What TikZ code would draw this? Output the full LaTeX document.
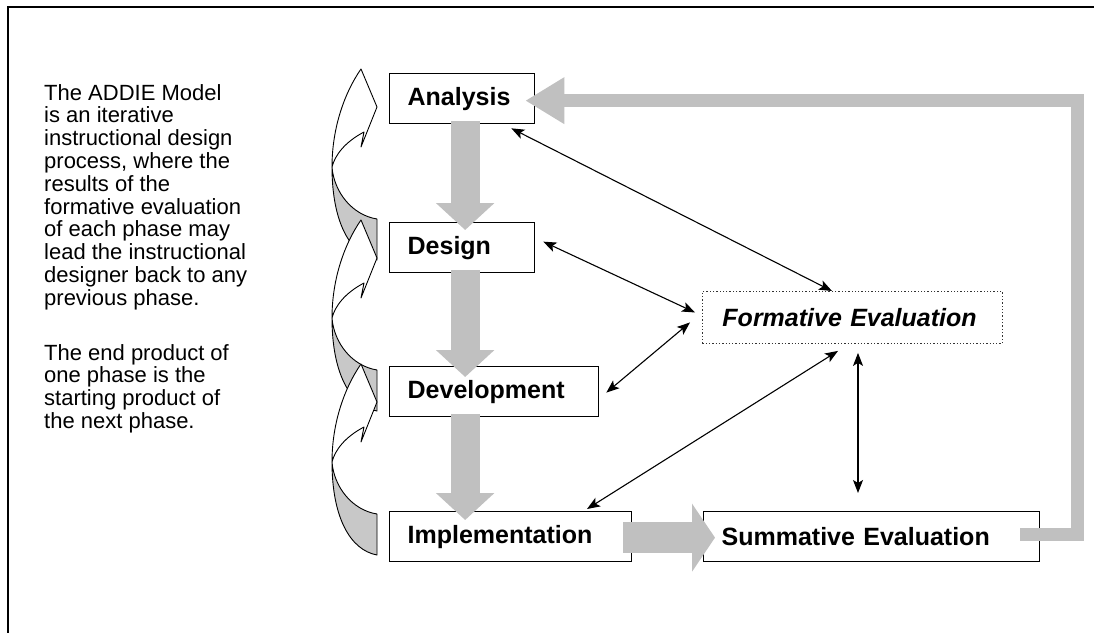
\documentclass[tikz,border=0pt]{standalone}
\usepackage{fontspec}
\setmainfont{Liberation Sans}
\usetikzlibrary{arrows.meta,calc}
\definecolor{arrgray}{HTML}{C0C0C0}
\definecolor{bandgray}{HTML}{C8C8C8}
\newcommand\bandarrow[1]{%
  \begin{scope}[shift={(0,#1)}]
    \draw[bandback] (332,60) .. controls (334,85) and (352,108) .. (377,112) -- (377,153)
      .. controls (350,148) and (332,115) .. (332,60) -- cycle;
    \draw[band] (332,60) .. controls (332,20) and (345,-15) .. (361,-38) -- (377,0) -- (361,40)
      -- (364,25) .. controls (345,35) and (335,48) .. (332,60) -- cycle;
  \end{scope}}
\begin{document}
\begin{tikzpicture}[x=1pt,y=-1pt,
  phase/.style={draw=black, line width=1.3pt, fill=white, minimum height=50pt,
    inner xsep=18pt, inner ysep=0pt, align=left, anchor=north west,
    font=\fontsize{25}{27}\selectfont\bfseries},
  link/.style={line width=1.1pt,
    {Stealth[length=13pt,width=10pt,inset=3pt]}-{Stealth[length=13pt,width=10pt,inset=3pt]}},
  band/.style={draw=black, line width=0.9pt, fill=white, line join=round},
  bandback/.style={draw=black, line width=0.9pt, fill=bandgray, line join=round},
  flowdown/.style={draw=arrgray, line width=29pt, -{Triangle[length=27pt,width=57pt]}},
]
\useasboundingbox (0,0) rectangle (1094,632);
\fill[white] (0,0) rectangle (1094,632);
\begin{scope}
  \clip (0,0) rectangle (1094,632);
  \draw[line width=2.6pt] (8,700) -- (8,7) -- (1200,7);
\end{scope}

% description text
\node[anchor=north west, inner sep=0pt, align=left,
      font=\fontsize{22}{22.8}\selectfont] (desc) at (44,84)
  {The ADDIE Model\\ is an iterative\\ instructional design\\ process, where the\\
   results of the\\ formative evaluation\\ of each phase may\\ lead the instructional\\
   designer back to any\\ previous phase.\\[32pt]
   The end product of\\ one phase is the\\ starting product of\\ the next phase.};

% curved feedback arrows on the left
\bandarrow{107}
\bandarrow{258}
\bandarrow{402}

% phase boxes
\node[phase, text width=109pt] (an) at (389,73) {Analysis};
\node[phase, text width=109pt] (de) at (389,222) {Design};
\node[phase, text width=173pt] (dv) at (389,366) {Development};
\node[phase, text width=206pt] (im) at (389,511) {Implementation};
\node[phase, text width=300pt] (su) at (703,511) {Summative Evaluation};
\node[phase, draw=black!80, dotted, line width=0.9pt, minimum height=52pt,
      inner xsep=20pt, text width=260pt,
      font=\fontsize{25}{27}\selectfont\bfseries\itshape] (fo) at (702,291) {Formative Evaluation};

% thin two-way links
\draw[link] ($(an.south east)+(-24,4)$) -- ($(fo.north west)+(130,0)$);
\draw[link] ($(de.east)+(8,-6)$) -- ($(fo.west)+(-7,-5)$);
\draw[link] ($(dv.east)+(7,1)$) -- ($(fo.west)+(-12,5)$);
\draw[link] ($(im.north west)+(198,-2)$) -- ($(fo.south west)+(136,7)$);
\draw[link] ($(fo.south west)+(156,9)$) -- ($(su.north west)+(155,-18)$);

% gray flow arrows
\draw[flowdown] ($(an.south)+(3,-3)$) -- ($(an.south |- de.north)+(3,8)$);
\draw[flowdown] ($(an.south |- de.south)+(3,-3)$) -- ($(an.south |- dv.north)+(3,11)$);
\draw[flowdown] ($(an.south |- dv.south)+(3,-3)$) -- ($(an.south |- im.north)+(3,9)$);
\draw[draw=arrgray, line width=31pt, -{Triangle[length=23pt,width=67pt]}]
  ($(im.east)+(-9,1)$) -- ($(su.west)+(12,1)$);
\draw[draw=arrgray, line width=13pt, line join=miter, -{Triangle[length=39pt,width=44pt]}]
  ($(su.east)+(-20,-2)$) -| ($(an.east)+(542,2)$) -- ($(an.east)+(-10,2)$);
\end{tikzpicture}
\end{document}
